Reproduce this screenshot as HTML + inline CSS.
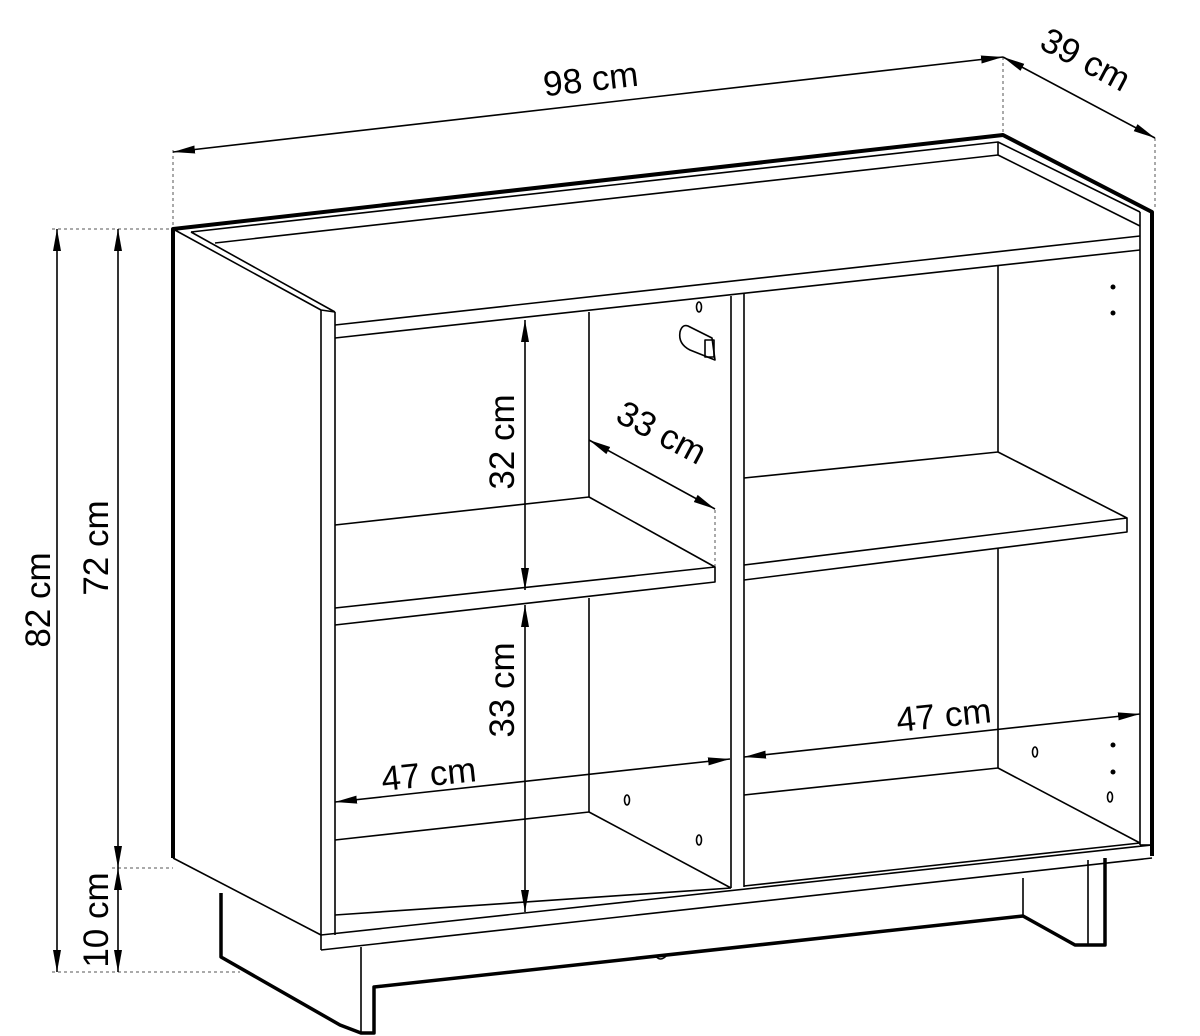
<!DOCTYPE html>
<html><head><meta charset="utf-8"><style>
html,body{margin:0;padding:0;background:#fff;}
svg{display:block;}
text{font-family:"Liberation Sans",sans-serif;font-size:35px;fill:#000;}
</style></head><body>
<svg width="1200" height="1036" viewBox="0 0 1200 1036" xmlns="http://www.w3.org/2000/svg">
<defs>
<marker id="a" viewBox="0 0 22 10" refX="22" refY="5" markerWidth="22" markerHeight="10" markerUnits="userSpaceOnUse" orient="auto-start-reverse"><path d="M0,1 L22,5 L0,9 z" fill="#000"/></marker>
</defs>
<g fill="none" stroke="#000" stroke-width="1.6" stroke-linejoin="round">
<g stroke-dasharray="3,3" stroke-width="1" stroke="#555">
<line x1="173" y1="150" x2="173" y2="228"/>
<line x1="1003" y1="57" x2="1003" y2="134"/>
<line x1="1155" y1="138" x2="1155" y2="210"/>
<line x1="52" y1="229" x2="173" y2="229"/>
<line x1="112" y1="868" x2="173" y2="868"/>
<line x1="52" y1="972" x2="240" y2="972"/>
<line x1="715" y1="510" x2="715" y2="566"/>
</g>
<line x1="173" y1="152" x2="1003" y2="57" marker-start="url(#a)" marker-end="url(#a)"/>
<line x1="1003" y1="57" x2="1155" y2="138" marker-start="url(#a)" marker-end="url(#a)"/>
<line x1="57" y1="229" x2="57" y2="972" marker-start="url(#a)" marker-end="url(#a)"/>
<line x1="118" y1="229" x2="118" y2="868" marker-start="url(#a)" marker-end="url(#a)"/>
<line x1="118" y1="868" x2="118" y2="972" marker-start="url(#a)" marker-end="url(#a)"/>
<line x1="525" y1="320" x2="525" y2="590" marker-start="url(#a)" marker-end="url(#a)"/>
<line x1="525" y1="605" x2="525" y2="912" marker-start="url(#a)" marker-end="url(#a)"/>
<line x1="589" y1="440" x2="715" y2="509" marker-start="url(#a)" marker-end="url(#a)"/>
<line x1="335" y1="802" x2="730" y2="759" marker-start="url(#a)" marker-end="url(#a)"/>
<line x1="744" y1="757" x2="1140" y2="714" marker-start="url(#a)" marker-end="url(#a)"/>

<path d="M173,858 L173,229 L1003,135 L1152,212 L1152,856" stroke-width="4"/>
<path d="M191,232 L998,142 L1140,212"/>
<path d="M215,243 L998,155 L1140,226"/>
<line x1="998" y1="142" x2="998" y2="155"/>
<path d="M173,229 L321,310 L335,312"/>
<line x1="191" y1="232" x2="335" y2="312"/>
<line x1="321" y1="310" x2="321" y2="950"/>
<line x1="335" y1="312" x2="335" y2="935"/>
<line x1="173" y1="858" x2="321" y2="935"/>
<line x1="335" y1="325" x2="1140" y2="236"/>
<line x1="335" y1="338" x2="1140" y2="250"/>
<line x1="1140" y1="212" x2="1140" y2="845"/>
<line x1="321" y1="935" x2="1152" y2="845"/>
<line x1="321" y1="950" x2="1152" y2="858"/>
<line x1="1140" y1="845" x2="1152" y2="845"/>
<line x1="731" y1="296" x2="731" y2="888"/>
<line x1="744" y1="294" x2="744" y2="887"/>
<line x1="589" y1="312" x2="589" y2="497"/>
<line x1="589" y1="598" x2="589" y2="812"/>
<line x1="335" y1="525" x2="589" y2="497"/>
<line x1="589" y1="497" x2="715" y2="567"/>
<path d="M335,608 L715,567 L715,582 L335,625"/>
<line x1="335" y1="840" x2="589" y2="812"/>
<line x1="589" y1="812" x2="731" y2="888"/>
<line x1="335" y1="915" x2="731" y2="888"/>
<line x1="998" y1="265" x2="998" y2="452"/>
<line x1="998" y1="548" x2="998" y2="768"/>
<line x1="744" y1="478" x2="998" y2="452"/>
<line x1="998" y1="452" x2="1127" y2="518"/>
<path d="M744,565 L1127,518 L1127,532 L744,580"/>
<line x1="744" y1="795" x2="998" y2="768"/>
<line x1="998" y1="768" x2="1140" y2="843"/>
<line x1="744" y1="886" x2="1140" y2="843"/>
<g stroke-width="3.5">
<path d="M221,893 L221,957 L340,1025 L361,1033 L374,1033 L374,987 L1023,916 L1075,945 L1105,945 L1105,858"/>
</g>
<line x1="361" y1="947" x2="361" y2="1033"/>
<line x1="1023" y1="878" x2="1023" y2="916"/>
<line x1="1088" y1="860" x2="1088" y2="945"/>
<path d="M655,955 q5,8 12,0" />
<ellipse cx="699" cy="307" rx="2.5" ry="5"/>
<ellipse cx="627" cy="800" rx="2.5" ry="5"/>
<ellipse cx="699" cy="840" rx="2.5" ry="5"/>
<ellipse cx="1035" cy="752" rx="2.5" ry="5"/>
<ellipse cx="1110" cy="797" rx="2.5" ry="5"/>
<path d="M688,326 L712,338 L715,360 L690,350 Q678,344 680,332 Q682,324 688,326 z"/>
<rect x="705" y="340" width="9" height="17"/>
</g>
<g fill="#000">
<circle cx="1113" cy="287" r="2.5"/><circle cx="1113" cy="313" r="2.5"/>
<circle cx="1113" cy="745" r="2.5"/><circle cx="1113" cy="772" r="2.5"/>
</g>
<text transform="translate(592,91) rotate(-6.5)" text-anchor="middle">98 cm</text>
<text transform="translate(1080,70) rotate(28)" text-anchor="middle">39 cm</text>
<text transform="translate(50,600) rotate(-90)" text-anchor="middle">82 cm</text>
<text transform="translate(108,548) rotate(-90)" text-anchor="middle">72 cm</text>
<text transform="translate(108,920) rotate(-90)" text-anchor="middle">10 cm</text>
<text transform="translate(514,442) rotate(-90)" text-anchor="middle">32 cm</text>
<text transform="translate(514,690) rotate(-90)" text-anchor="middle">33 cm</text>
<text transform="translate(656,443) rotate(28)" text-anchor="middle">33 cm</text>
<text transform="translate(430,786) rotate(-6)" text-anchor="middle">47 cm</text>
<text transform="translate(945,727) rotate(-6)" text-anchor="middle">47 cm</text>
</svg>
</body></html>
